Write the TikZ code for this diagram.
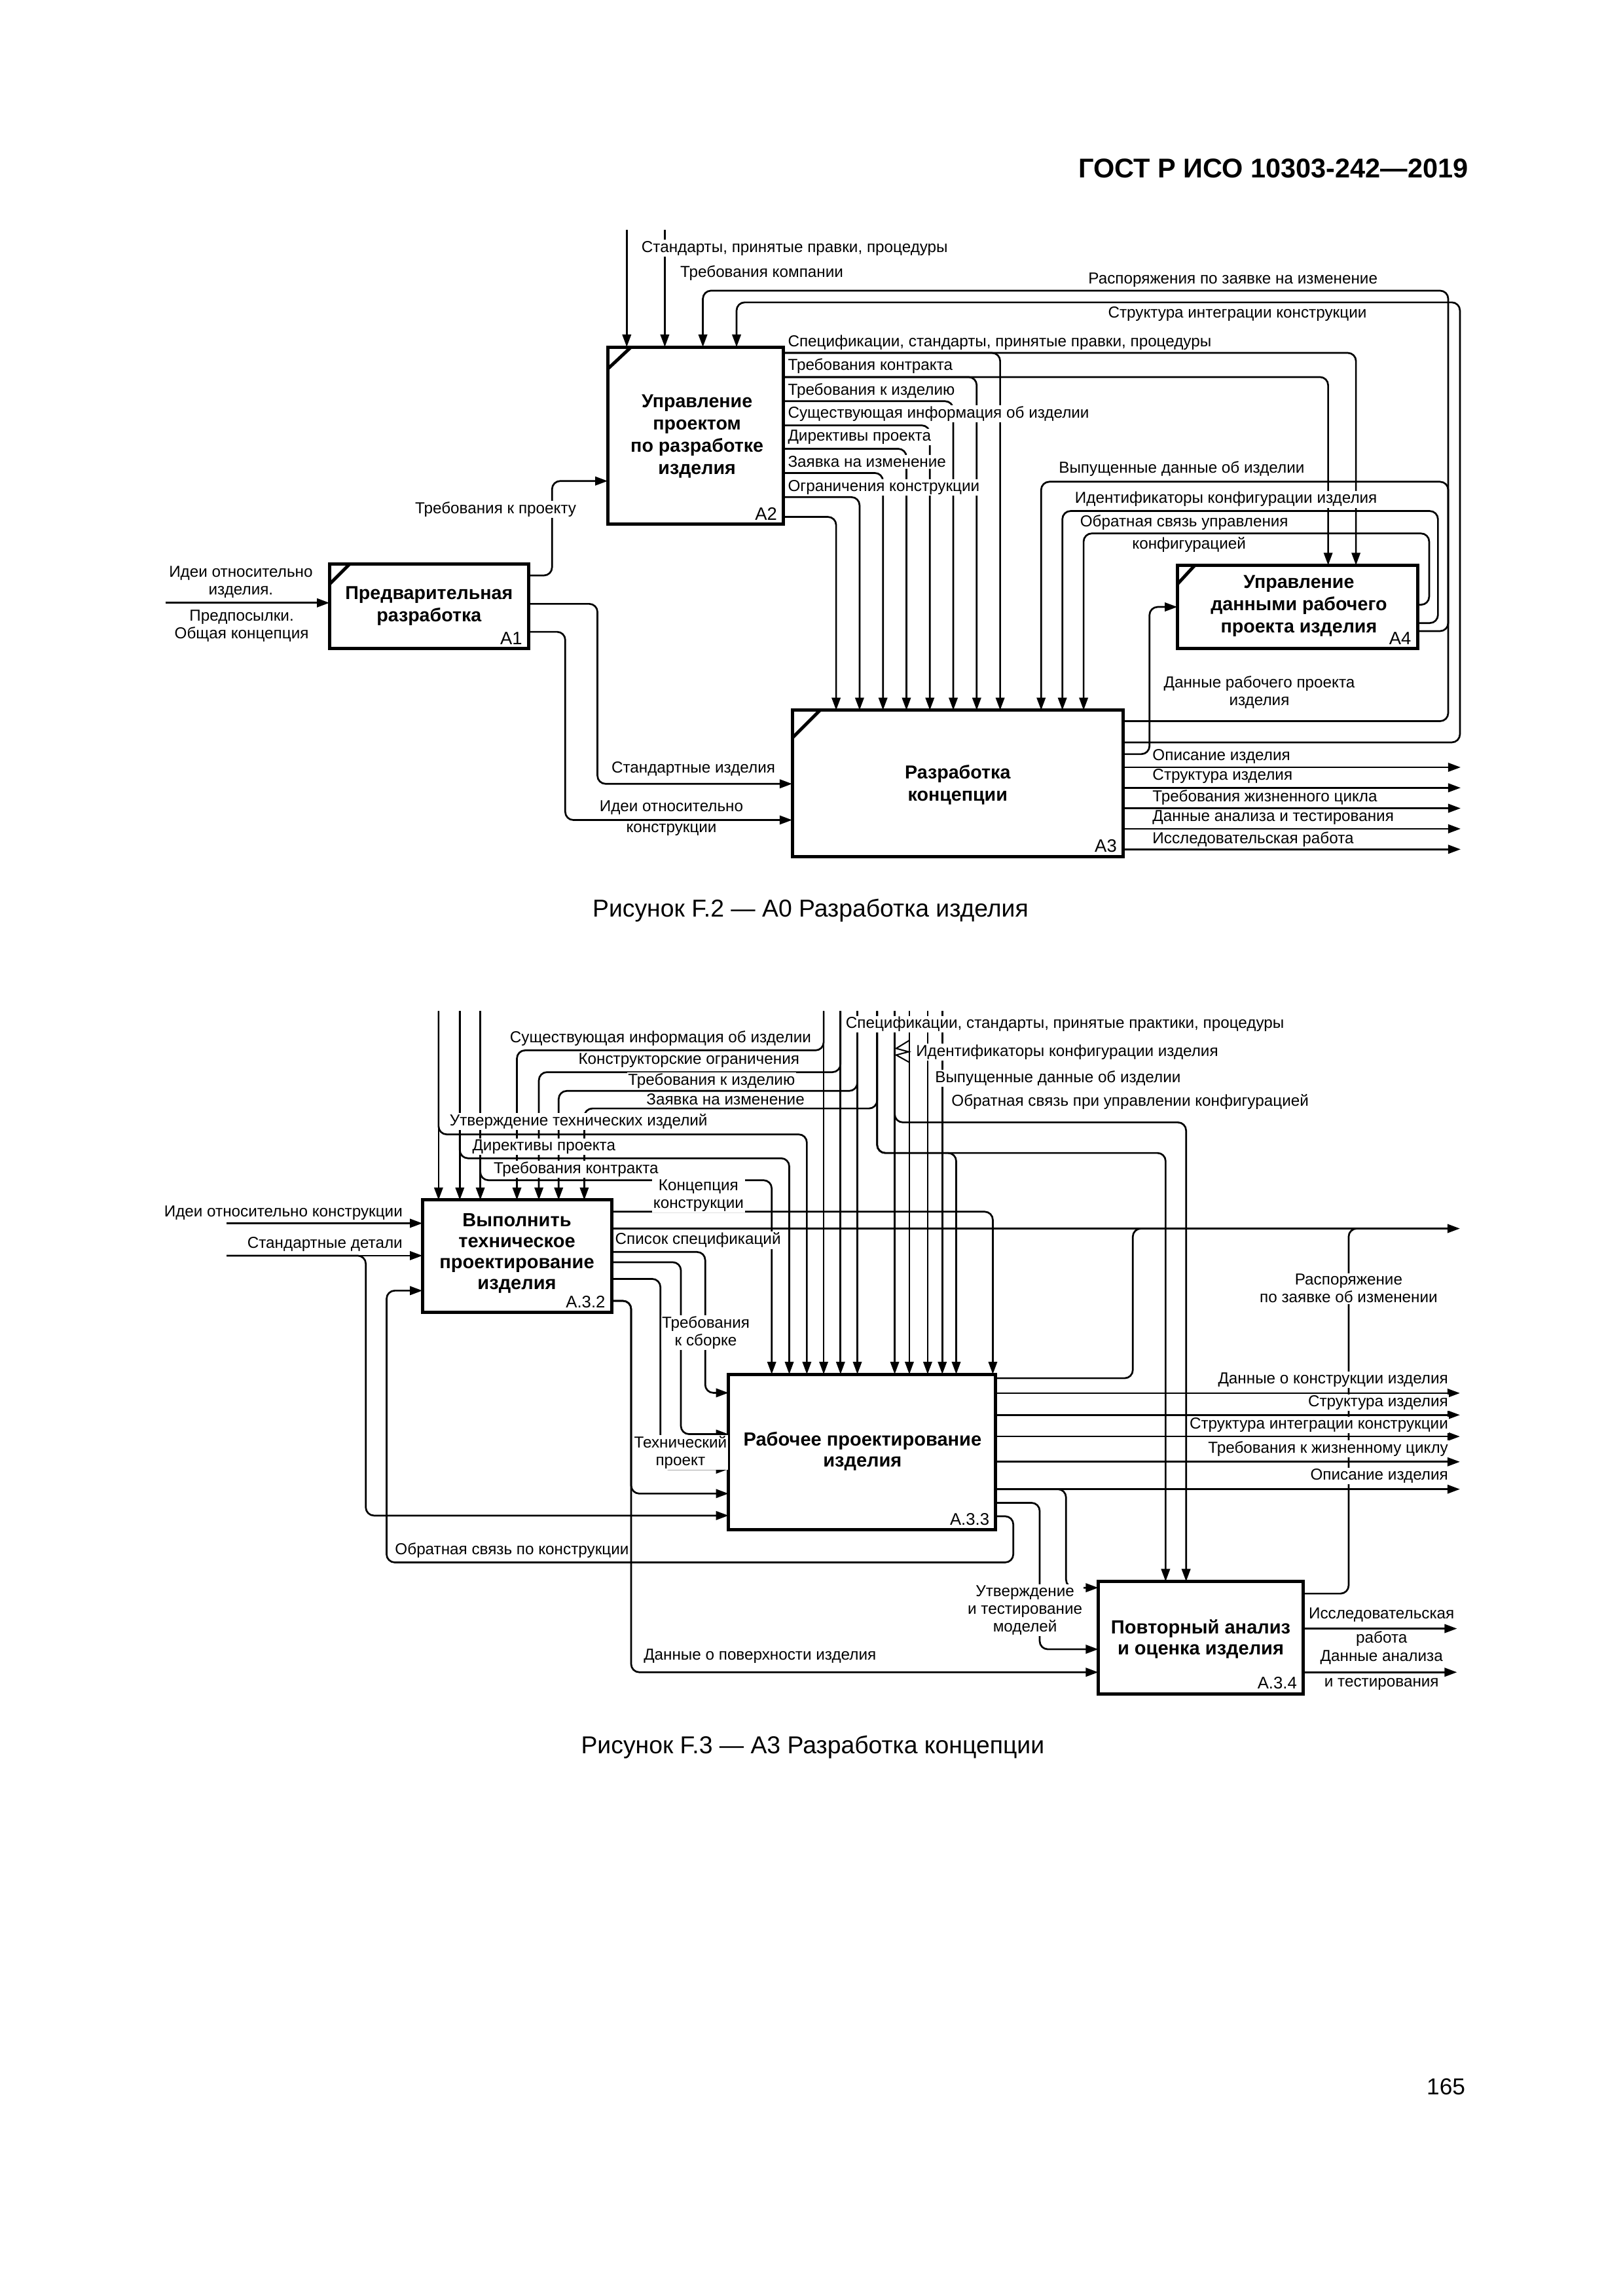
\documentclass[tikz,border=0pt]{standalone}
\usepackage{fontspec}
\setmainfont{Liberation Sans}
\usetikzlibrary{arrows.meta,fit,calc}
\newcommand\lblfont{\fontsize{5.85}{6.5}\selectfont}
\newcommand\ttlfont{\bfseries\fontsize{6.9}{8.2}\selectfont}
\newcommand\numfont{\fontsize{6.6}{8}\selectfont}
\tikzset{
  box/.style={draw, line width=1.2pt, inner sep=0pt, outer sep=0pt},
  ttl/.style={font=\ttlfont, align=center, inner sep=0pt},
  num/.style={font=\numfont, inner sep=0pt},
  lbl/.style={font=\lblfont, fill=white, inner sep=0.4pt, align=center},
  conn/.style={line width=0.65pt, rounded corners=3pt},
  arr/.style={conn, -{Triangle[length=4.6pt,width=3.2pt]}},
  notch/.style={line width=1.2pt},
  sq/.style={line width=0.5pt}
}
\begin{document}
\begin{tikzpicture}[x=0.18953mm, y=-0.18953mm]
\useasboundingbox (0,0) rectangle (1108,1568);
\fill[white] (0,0) rectangle (1108,1568);

% ---------- page text ----------
\node[anchor=east, font=\bfseries\fontsize{10}{12}\selectfont, inner sep=0pt] (hdr) at (1003,115) {ГОСТ Р ИСО 10303-242—2019};
\node[font=\fontsize{9}{11}\selectfont, inner sep=0pt] (cap1) at (553.5,622) {Рисунок F.2 — A0 Разработка изделия};
\node[font=\fontsize{9}{11}\selectfont, inner sep=0pt] (cap2) at (555,1193) {Рисунок F.3 — A3 Разработка концепции};
\node[anchor=east, font=\fontsize{8.5}{10}\selectfont, inner sep=0pt] (pg) at (1001,1425) {165};

% ================= FIGURE F.2 =================
\node[box, fit={(225,385) (361,443)}] (A1) {};
\node[box, fit={(415,237) (535,358)}] (A2) {};
\node[box, fit={(541,485) (767,585)}] (A3) {};
\node[box, fit={(804,386) (968,443)}] (A4) {};
\draw[notch] ($(A1.north west)+(0,14)$) -- ($(A1.north west)+(14,0)$);
\draw[notch] ($(A2.north west)+(0,15)$) -- ($(A2.north west)+(16,0)$);
\draw[notch] ($(A3.north west)+(0,19)$) -- ($(A3.north west)+(19,0)$);
\draw[notch] ($(A4.north west)+(0,13)$) -- ($(A4.north west)+(12,0)$);
\node[ttl] (tA1) at (293,414) {Предварительная\\разработка};
\node[ttl] (tA2) at (476,298) {Управление\\проектом\\по разработке\\изделия};
\node[ttl] (tA3) at (654,536) {Разработка\\концепции};
\node[ttl] (tA4) at (887,414) {Управление\\данными рабочего\\проекта изделия};
\node[num, anchor=south east] (nA1) at ($(A1.south east)+(-4,-2.5)$) {A1};
\node[num, anchor=south east] (nA2) at ($(A2.south east)+(-4,-2.5)$) {A2};
\node[num, anchor=south east] (nA3) at ($(A3.south east)+(-4,-2.5)$) {A3};
\node[num, anchor=south east] (nA4) at ($(A4.south east)+(-4,-2.5)$) {A4};

% external controls of A2
\coordinate (c1) at (428,157);
\coordinate (c2) at (454,157);
\draw[arr] (c1) -- (A2.north -| c1);
\draw[arr] (c2) -- (A2.north -| c2);
% input of A1
\coordinate (in1) at (113,411.7);
\draw[arr] (in1) -- (A1.west |- in1);
% A1 outputs
\draw[arr] (A1.east |- 0,393) -- (377,393) -- (377,328.5) -- (A2.west |- 0,328.5);
\draw[arr] (A1.east |- 0,412.4) -- (408,412.4) -- (408,535.3) -- (A3.west |- 0,535.3);
\draw[arr] (A1.east |- 0,431.5) -- (386,431.5) -- (386,560) -- (A3.west |- 0,560);
% A2 outputs to A3
\foreach \yy/\xx in {241/683, 257.5/667, 274/651, 290.5/635, 306.5/619, 323/603, 339.5/587, 353/571}
  { \draw[arr] (A2.east |- 0,\yy) -- (\xx,\yy) -- (A3.north -| \xx,0); }
% A2 outputs to A4
\draw[arr] (A2.east |- 0,241) -- (926,241) -- (A4.north -| 926,0);
\draw[arr] (A2.east |- 0,257.5) -- (907,257.5) -- (A4.north -| 907,0);
% A3 feedback to A2
\draw[arr] (A3.east |- 0,492.5) -- (989,492.5) -- (989,198.5) -- (480,198.5) -- (A2.north -| 480,0);
\draw[arr] (A3.east |- 0,507) -- (997,507) -- (997,206.5) -- (503,206.5) -- (A2.north -| 503,0);
% A4 outputs to A3
\draw[arr] (A4.east |- 0,413) -- (976,413) -- (976,364.3) -- (740,364.3) -- (A3.north -| 740,0);
\draw[arr] (A4.east |- 0,425.5) -- (982,425.5) -- (982,349) -- (725.5,349) -- (A3.north -| 725.5,0);
\draw[arr] (A4.east |- 0,431) -- (989,431) -- (989,329) -- (711,329) -- (A3.north -| 711,0);
% A3 -> A4
\draw[arr] (A3.east |- 0,515) -- (785,515) -- (785,414.5) -- (A4.west |- 0,414.5);
% A3 outputs
\foreach \yy [count=\i] in {524,538,552,566,580}
  { \coordinate (o\i) at (997.5,\yy); \draw[arr] (A3.east |- o\i) -- (o\i); }

% labels F.2
\node[lbl, anchor=west] (l01) at (437,169.5) {Стандарты, принятые правки, процедуры};
\node[lbl, anchor=west] (l02) at (463.5,186.5) {Требования компании};
\node[lbl] (l03) at (842,191) {Распоряжения по заявке на изменение};
\node[lbl] (l04) at (845,214.5) {Структура интеграции конструкции};
\node[lbl, anchor=west] (l05) at (537,234) {Спецификации, стандарты, принятые правки, процедуры};
\node[lbl, anchor=west] (l06) at (537,250) {Требования контракта};
\node[lbl, anchor=west] (l07) at (537,267) {Требования к изделию};
\node[lbl, anchor=west] (l08) at (537,282.5) {Существующая информация об изделии};
\node[lbl, anchor=west] (l09) at (537,298.5) {Директивы проекта};
\node[lbl, anchor=west] (l10) at (537,315.5) {Заявка на изменение};
\node[lbl, anchor=west] (l11) at (537,333) {Ограничения конструкции};
\node[lbl, anchor=west] (l12) at (722,320) {Выпущенные данные об изделии};
\node[lbl, anchor=west] (l13) at (733,341) {Идентификаторы конфигурации изделия};
\node[lbl, anchor=west] (l14) at (736.5,357) {Обратная связь управления};
\node[lbl] (l15) at (812,372) {конфигурацией};
\node[lbl] (l16) at (338.5,348) {Требования к проекту};
\node[lbl] (l17) at (164.5,397.7) {Идеи относительно\\изделия.};
\node[lbl] (l18) at (165,427.3) {Предпосылки.\\Общая концепция};
\node[lbl] (l19) at (473.5,525) {Стандартные изделия};
\node[lbl] (l20) at (458.5,551.7) {Идеи относительно};
\node[lbl] (l21) at (458.5,566.8) {конструкции};
\node[lbl] (l22) at (860,472.8) {Данные рабочего проекта\\изделия};
\node[lbl, anchor=west] (l23) at (786,516.6) {Описание изделия};
\node[lbl, anchor=west] (l24) at (786,530) {Структура изделия};
\node[lbl, anchor=west] (l25) at (786,544.5) {Требования жизненного цикла};
\node[lbl, anchor=west] (l26) at (786,558.5) {Данные анализа и тестирования};
\node[lbl, anchor=west] (l27) at (786,573.2) {Исследовательская работа};

% ================= FIGURE F.3 =================
\node[box, fit={(288.5,819.5) (417.7,896.4)}] (B2) {};
\node[box, fit={(497.5,938.5) (680,1044.8)}] (B3) {};
\node[box, fit={(750,1080) (890,1157)}] (B4) {};
\node[ttl, font=\bfseries\fontsize{7}{7.7}\selectfont] (tB2) at (353,856) {Выполнить\\техническое\\проектирование\\изделия};
\node[ttl, font=\bfseries\fontsize{7}{7.7}\selectfont] (tB3) at (589,991.3) {Рабочее проектирование\\изделия};
\node[ttl, font=\bfseries\fontsize{7}{7.7}\selectfont] (tB4) at (820,1119.3) {Повторный анализ\\и оценка изделия};
\node[num, font=\fontsize{6.2}{7}\selectfont, anchor=south east] (nB2) at ($(B2.south east)+(-4,-3)$) {A.3.2};
\node[num, font=\fontsize{6.2}{7}\selectfont, anchor=south east] (nB3) at ($(B3.south east)+(-4,-3)$) {A.3.3};
\node[num, font=\fontsize{6.2}{7}\selectfont, anchor=south east] (nB4) at ($(B4.south east)+(-4,-3)$) {A.3.4};

% top free ends
\coordinate (t1) at (299.5,690.5);
\coordinate (t2) at (314,690.5);
\coordinate (t3) at (328,690.5);
\coordinate (u1) at (562.5,690.5);
\coordinate (u2) at (574,690.5);
\coordinate (u3) at (585.5,690.5);
\coordinate (u4) at (599,690.5);
\coordinate (u5) at (611,690.5);
\coordinate (u6) at (621,690.5);
\coordinate (u7) at (633.5,690.5);
\coordinate (u8) at (643.5,690.5);

\draw[arr] (t1) -- (B2.north -| t1);
\draw[arr] (t1) -- (299.5,774.7) -- (551,774.7) -- (B3.north -| 551,0);
\draw[arr] (t2) -- (B2.north -| t2);
\draw[arr] (t2) -- (314,791) -- (539,791) -- (B3.north -| 539,0);
\draw[arr] (t3) -- (B2.north -| t3);
\draw[arr] (t3) -- (328,806) -- (527,806) -- (B3.north -| 527,0);

\draw[arr] (u1) -- (B3.north -| u1);
\draw[arr] (u1) -- (562.5,717.3) -- (353,717.3) -- (B2.north -| 353,0);
\draw[arr] (u2) -- (B3.north -| u2);
\draw[arr] (u2) -- (574,732.2) -- (368,732.2) -- (B2.north -| 368,0);
\draw[arr] (u3) -- (B3.north -| u3);
\draw[arr] (u3) -- (585.5,745) -- (381.5,745) -- (B2.north -| 381.5,0);
\draw[arr] (u4) -- (599,757) -- (399,757) -- (B2.north -| 399,0);
\draw[arr] (u4) -- (599,787.4) -- (796,787.4) -- (B4.north -| 796,0);
\draw[arr] (u4) -- (599,787.4) -- (653,787.4) -- (B3.north -| 653,0);
\draw[arr] (u5) -- (B3.north -| u5);
\draw[arr] (u5) -- (611,766.5) -- (810,766.5) -- (B4.north -| 810,0);
\draw[arr] (u6) -- (B3.north -| u6);
\draw[arr] (u7) -- (B3.north -| u7);
\draw[arr] (u8) -- (B3.north -| u8);
\draw[sq] (621,710.5) -- (612,716) -- (620.5,718.3) -- (612,720.5) -- (621,725.5);

% A.3.2 inputs
\coordinate (l1) at (154.7,835.4);
\coordinate (l2) at (154.7,857.5);
\draw[arr] (l1) -- (B2.west |- l1);
\draw[arr] (l2) -- (B2.west |- l2);
\draw[arr] (l2) -- (249.8,857.5) -- (249.8,1035) -- (B3.west |- 0,1035);

% A.3.2 outputs
\coordinate (e1) at (997,839);
\draw[arr] (B2.east |- 0,827.5) -- (678,827.5) -- (B3.north -| 678,0);
\draw[arr] (B2.east |- e1) -- (e1);
\draw[arr] (B2.east |- 0,855) -- (481.6,855) -- (481.6,951.2) -- (B3.west |- 0,951.2);
\draw[arr] (B2.east |- 0,862) -- (465,862) -- (465,979.4) -- (B3.west |- 0,979.4);
\draw[arr] (B2.east |- 0,873.4) -- (451,873.4) -- (451,1003.3) -- (B3.west |- 0,1003.3);
\draw[arr] (B2.east |- 0,888.4) -- (431,888.4) -- (431,1020) -- (B3.west |- 0,1020);
\draw[arr] (B2.east |- 0,888.4) -- (431,888.4) -- (431,1142) -- (B4.west |- 0,1142);

% A.3.3 outputs
\draw[conn] (B3.east |- 0,941.2) -- (773.6,941.2) -- (773.6,839) -- (786,839);
\foreach \yy [count=\i] in {951.4,966.3,981,998.3,1017}
  { \coordinate (p\i) at (997,\yy); \draw[arr] (B3.east |- p\i) -- (p\i); }
\draw[arr] (B3.east |- 0,1017) -- (728,1017) -- (728,1084.3) -- (B4.west |- 0,1084.3);
\draw[arr] (B3.east |- 0,1026.3) -- (710,1026.3) -- (710,1126.3) -- (B4.west |- 0,1126.3);
\draw[arr] (B3.east |- 0,1035.5) -- (692,1035.5) -- (692,1067) -- (264,1067) -- (264,881.4) -- (B2.west |- 0,881.4);

% A.3.4 outputs
\draw[conn] (B4.east |- 0,1088.3) -- (921,1088.3) -- (921,839) -- (933,839);
\coordinate (f1) at (995,1112.2);
\coordinate (f2) at (995,1142);
\draw[arr] (B4.east |- f1) -- (f1);
\draw[arr] (B4.east |- f2) -- (f2);

% labels F.3
\node[lbl, anchor=east] (m01) at (555,709) {Существующая информация об изделии};
\node[lbl, anchor=east] (m02) at (547,724) {Конструкторские ограничения};
\node[lbl, anchor=east] (m03) at (544,738) {Требования к изделию};
\node[lbl, anchor=east] (m04) at (550.5,750.9) {Заявка на изменение};
\node[lbl, anchor=west] (m05) at (306,765.8) {Утверждение технических изделий};
\node[lbl, anchor=west] (m06) at (321.5,783) {Директивы проекта};
\node[lbl, anchor=west] (m07) at (336,798.5) {Требования контракта};
\node[lbl] (m08) at (477,816.5) {Концепция\\конструкции};
\node[lbl, anchor=west] (m09) at (419,847) {Список спецификаций};
\node[lbl, anchor=west] (m10) at (576.5,699.5) {Спецификации, стандарты, принятые практики, процедуры};
\node[lbl, anchor=west] (m11) at (624.5,718.5) {Идентификаторы конфигурации изделия};
\node[lbl, anchor=west] (m12) at (637.5,736.5) {Выпущенные данные об изделии};
\node[lbl, anchor=west] (m13) at (648.7,752.3) {Обратная связь при управлении конфигурацией};
\node[lbl, anchor=east] (m14) at (276,828.4) {Идеи относительно конструкции};
\node[lbl, anchor=east] (m15) at (276,849.6) {Стандартные детали};
\node[lbl] (m16) at (482,910) {Требования\\к сборке};
\node[lbl] (m17) at (464.7,991.8) {Технический\\проект};
\node[lbl, anchor=west] (m18) at (268.7,1059) {Обратная связь по конструкции};
\node[lbl, anchor=west] (m19) at (438.5,1130.8) {Данные о поверхности изделия};
\node[lbl] (m20) at (700,1099.8) {Утверждение\\и тестирование\\моделей};
\node[lbl] (m21) at (921,880) {Распоряжение\\по заявке об изменении};
\node[lbl, anchor=east] (m22) at (990,942.4) {Данные о конструкции изделия};
\node[lbl, anchor=east] (m23) at (990,957.8) {Структура изделия};
\node[lbl, anchor=east] (m24) at (990,973.2) {Структура интеграции конструкции};
\node[lbl, anchor=east] (m25) at (990,989.4) {Требования к жизненному циклу};
\node[lbl, anchor=east] (m26) at (990,1007.9) {Описание изделия};
\node[lbl] (m27) at (943.5,1103) {Исследовательская};
\node[lbl] (m28) at (943.5,1119) {работа};
\node[lbl] (m29) at (943.5,1132) {Данные анализа};
\node[lbl] (m30) at (943.5,1150) {и тестирования};
\end{tikzpicture}
\end{document}
